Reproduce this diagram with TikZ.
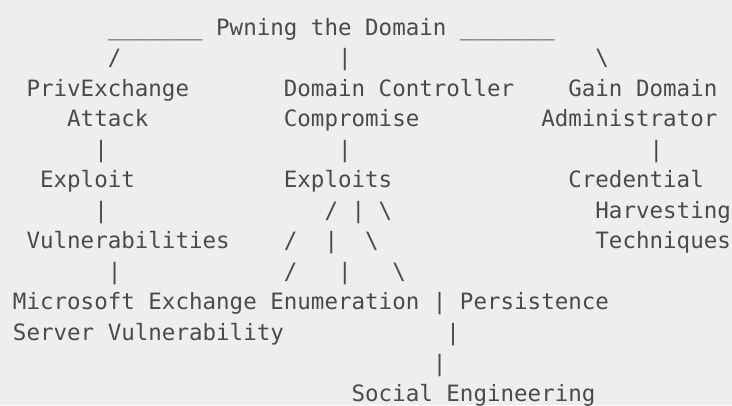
\documentclass[tikz,border=0pt]{standalone}
\usepackage{fontspec}
\setmonofont{DejaVu Sans Mono}
\definecolor{bgc}{HTML}{EEEEEE}
\definecolor{txc}{HTML}{4A4A4A}
\tikzset{
  txt/.style={anchor=base west, inner sep=0pt, outer sep=0pt, text=txc,
    font=\ttfamily\fontsize{22.5pt}{27pt}\selectfont}
}
\begin{document}
\begin{tikzpicture}[x=13.545pt, y=-30.55pt]
\fill[bgc] (-13pt,35pt) rectangle (719pt,-370pt);
\useasboundingbox (-13pt,35pt) rectangle (719pt,-370pt);
% row 1
\node[txt] (title) at (7,0) {\_\_\_\_\_\_\_ Pwning the Domain \_\_\_\_\_\_\_};
% row 2
\node[txt] (r2a) at (7,1) {/};
\node[txt] (r2b) at (24,1) {|};
\node[txt] (r2c) at (43,1) {\textbackslash};
% row 3-4
\node[txt] (priv1) at (1,2) {PrivExchange};
\node[txt] (dc1) at (20,2) {Domain Controller};
\node[txt] (gda1) at (41,2) {Gain Domain};
\node[txt] (priv2) at (4,3) {Attack};
\node[txt] (dc2) at (20,3) {Compromise};
\node[txt] (gda2) at (39,3) {Administrator};
% row 5
\node[txt] (r5a) at (6,4) {|};
\node[txt] (r5b) at (24,4) {|};
\node[txt] (r5c) at (47,4) {|};
% row 6
\node[txt] (expl) at (2,5) {Exploit};
\node[txt] (expls) at (20,5) {Exploits};
\node[txt] (cred1) at (41,5) {Credential};
% row 7
\node[txt] (r7a) at (6,6) {|};
\node[txt] (r7b) at (23,6) {/};
\node[txt] (r7c) at (25,6) {|};
\node[txt] (r7d) at (27,6) {\textbackslash};
\node[txt] (cred2) at (43,6) {Harvesting};
% row 8
\node[txt] (vuln) at (1,7) {Vulnerabilities};
\node[txt] (r8b) at (20,7) {/};
\node[txt] (r8c) at (23,7) {|};
\node[txt] (r8d) at (26,7) {\textbackslash};
\node[txt] (cred3) at (43,7) {Techniques};
% row 9
\node[txt] (r9a) at (7,8) {|};
\node[txt] (r9b) at (20,8) {/};
\node[txt] (r9c) at (24,8) {|};
\node[txt] (r9d) at (28,8) {\textbackslash};
% row 10
\node[txt] (mse1) at (0,9) {Microsoft Exchange};
\node[txt] (enum) at (19,9) {Enumeration};
\node[txt] (r10p) at (31,9) {|};
\node[txt] (pers) at (33,9) {Persistence};
% row 11
\node[txt] (mse2) at (0,10) {Server Vulnerability};
\node[txt] (r11p) at (32,10) {|};
% row 12
\node[txt] (r12p) at (31,11) {|};
% row 13
\node[txt] (soc) at (25,12) {Social Engineering};
\end{tikzpicture}
\end{document}
